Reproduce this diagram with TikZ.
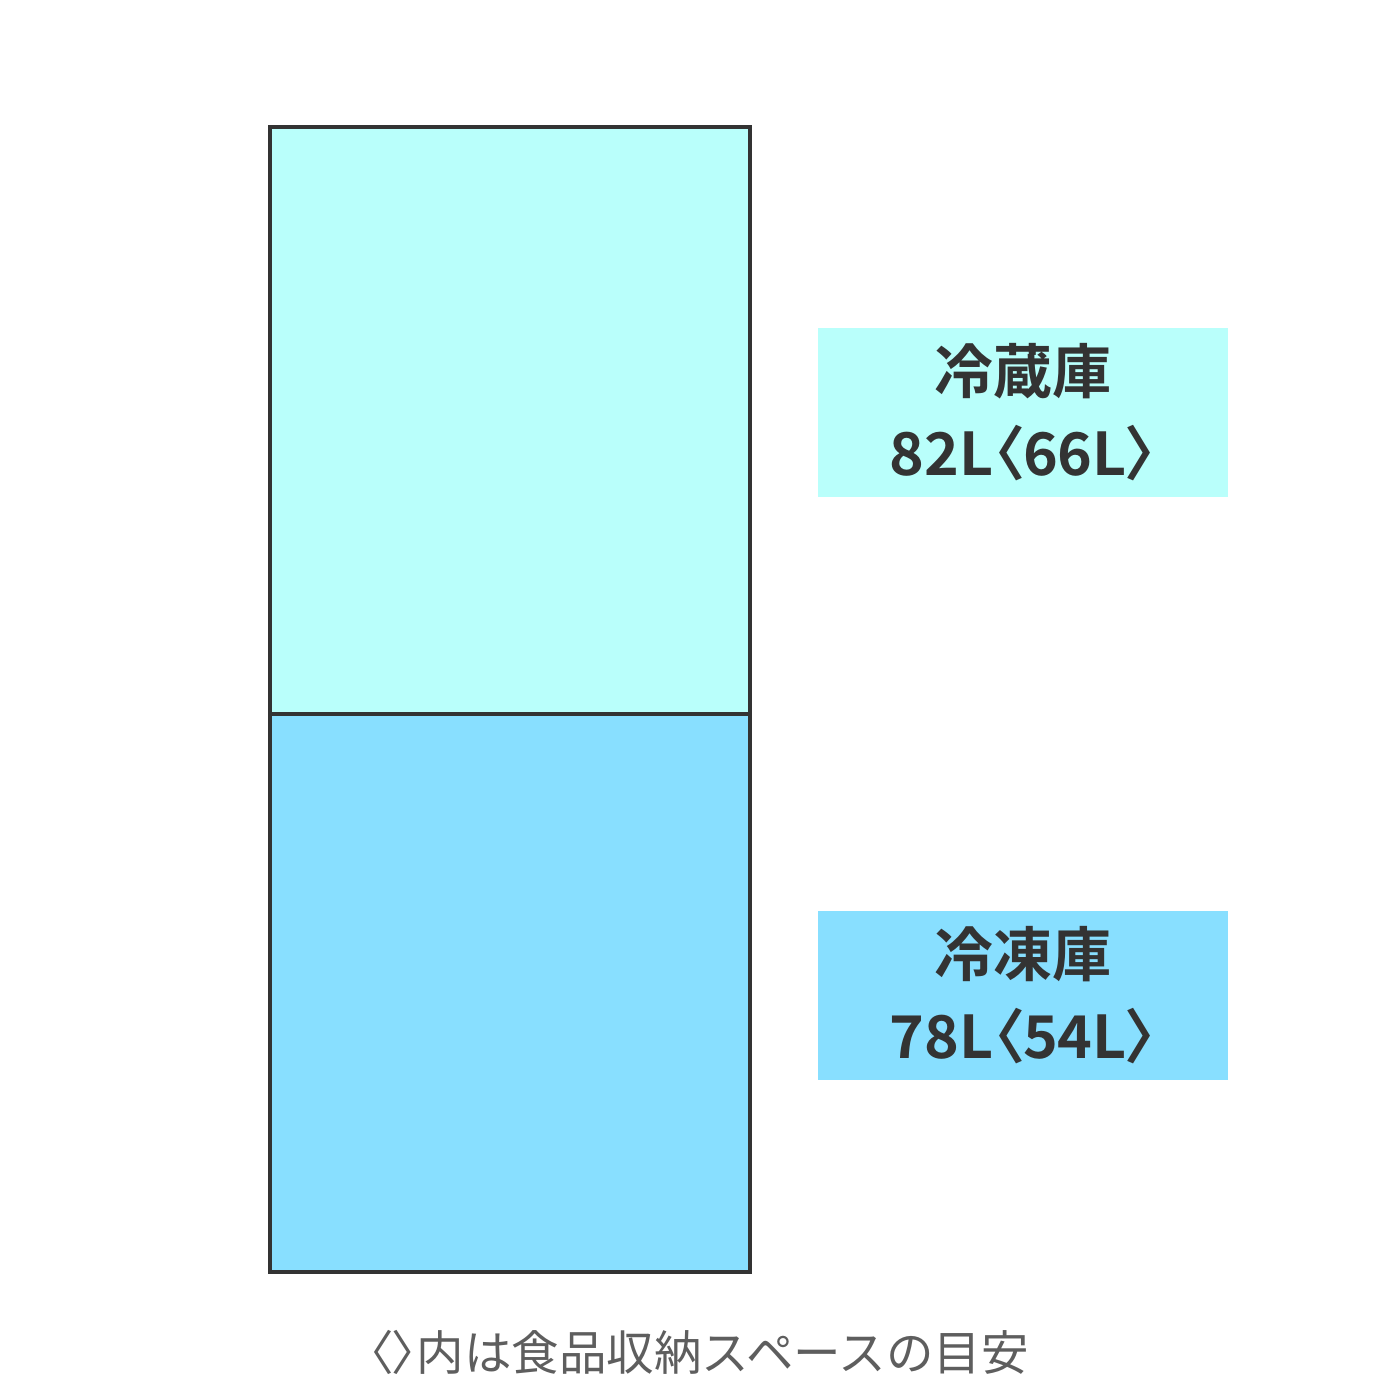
\documentclass[tikz,border=0pt]{standalone}
\usepackage{fontspec}
\newfontfamily\jpbold{Noto Sans CJK JP Bold}
\newfontfamily\jpboldp[RawFeature=+palt]{Noto Sans CJK JP Bold}
\newfontfamily\jp{Noto Sans CJK JP}
\newfontfamily\jpp[RawFeature=+palt]{Noto Sans CJK JP}
\definecolor{fridge}{HTML}{B9FFFB}
\definecolor{freezer}{HTML}{88DFFF}
\definecolor{edge}{HTML}{333333}
\definecolor{capgray}{HTML}{5E5E5E}
\tikzset{
  compart/.style={draw=edge, line width=3.5pt},
  labelbox/.style={minimum width=410pt, minimum height=169pt, inner sep=0pt, align=center, text=edge, font=\jpbold\fontsize{59}{82}\selectfont},
  caption/.style={inner sep=0pt, text=capgray, font=\jp\fontsize{47.5}{50}\selectfont}
}
\begin{document}
\begin{tikzpicture}[x=1pt,y=-1pt]
\useasboundingbox (0,0) rectangle (1400,1400);
\fill[white] (0,0) rectangle (1400,1400);
\coordinate (tl) at (270,127);
\coordinate (mr) at (750,714);
\coordinate (ml) at (270,714);
\coordinate (br) at (750,1272);
\filldraw[compart, fill=fridge] (tl) rectangle (mr);
\filldraw[compart, fill=freezer] (ml) rectangle (br);
\node[labelbox, fill=fridge] (fr) at (1023,412.5) {冷蔵庫\\{\jpboldp 82L〈66L〉}};
\node[labelbox, fill=freezer] (fz) at (1023,995.5) {冷凍庫\\{\jpboldp 78L〈54L〉}};
\node[caption] (cap) at (699,1352) {{\jpp 〈〉}内は食品収納スペースの目安};
\end{tikzpicture}
\end{document}
